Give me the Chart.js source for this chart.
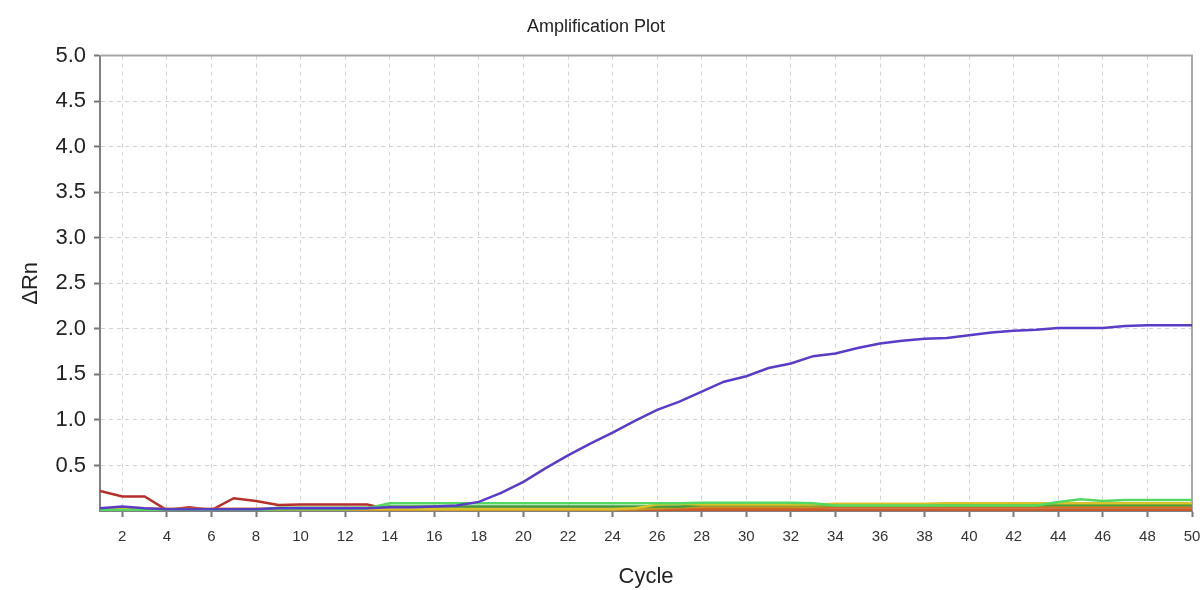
<!DOCTYPE html>
<html>
<head>
<meta charset="utf-8">
<script src="https://cdn.jsdelivr.net/npm/chart.js@4"></script>
<style>
  html, body { margin: 0; padding: 0; background: #fff; }
  #wrap { width: 1203px; height: 590px; }
</style>
</head>
<body>
<div id="wrap"><canvas id="grafico" width="1203" height="590"></canvas></div>
<script>
// --- DADOS ---
const cycles = [1,2,3,4,5,6,7,8,9,10,11,12,13,14,15,16,17,18,19,20,21,22,23,24,25,
  26,27,28,29,30,31,32,33,34,35,36,37,38,39,40,41,42,43,44,45,46,47,48,49,50];

const xTicks = [2,4,6,8,10,12,14,16,18,20,22,24,26,28,30,32,34,36,38,40,42,44,46,48,50];
const yTicks = [0.5,1.0,1.5,2.0,2.5,3.0,3.5,4.0,4.5,5.0];

// amostra amplificada (roxa)
const purple = [0.03,0.05,0.03,0.02,0.02,0.02,0.02,0.02,0.03,0.03,0.03,0.03,0.03,0.04,0.04,0.05,0.06,0.10,0.20,0.32,
  0.47,0.61,0.74,0.86,0.99,1.11,1.20,1.31,1.42,1.48,1.57,1.62,1.70,1.73,1.79,1.84,1.87,1.89,1.90,1.93,
  1.96,1.98,1.99,2.01,2.01,2.01,2.03,2.04,2.04,2.04];

// amostras sem amplificação (linha de base)
const brightGreen = [0.01,0.01,0.01,0.01,0.01,0.01,0.01,0.01,0.02,0.02,0.02,0.02,0.03,0.085,0.085,0.085,0.085,0.085,0.085,0.085,
  0.085,0.085,0.085,0.085,0.085,0.085,0.085,0.09,0.09,0.09,0.09,0.09,0.085,0.06,0.06,0.06,0.06,0.06,0.06,0.06,
  0.06,0.06,0.06,0.10,0.13,0.11,0.12,0.12,0.12,0.12];
const yellow = [0.02,0.02,0.02,0.02,0.02,0.02,0.02,0.02,0.02,0.02,0.02,0.02,0.02,0.02,0.02,0.02,0.02,0.02,0.02,0.02,
  0.02,0.02,0.02,0.02,0.03,0.07,0.08,0.07,0.07,0.07,0.07,0.07,0.07,0.08,0.08,0.08,0.08,0.08,0.085,0.085,
  0.085,0.085,0.085,0.085,0.085,0.085,0.085,0.085,0.085,0.085];
const darkGreen = [0.01,0.01,0.01,0.01,0.01,0.01,0.01,0.01,0.035,0.035,0.035,0.035,0.035,0.05,0.05,0.05,0.05,0.05,0.05,0.05,
  0.05,0.05,0.05,0.05,0.05,0.05,0.05,0.065,0.065,0.065,0.065,0.065,0.065,0.065,0.065,0.065,0.065,0.065,0.065,0.065,
  0.065,0.065,0.065,0.065,0.065,0.065,0.065,0.065,0.065,0.065];
const olive = [0.02,0.02,0.02,0.02,0.02,0.02,0.02,0.02,0.02,0.02,0.02,0.02,0.02,0.02,0.02,0.02,0.02,0.02,0.02,0.02,
  0.02,0.02,0.02,0.02,0.02,0.03,0.04,0.05,0.05,0.05,0.05,0.05,0.05,0.06,0.06,0.06,0.06,0.06,0.06,0.06,
  0.06,0.06,0.06,0.06,0.06,0.06,0.06,0.06,0.06,0.06];
const orange = [0.03,0.03,0.025,0.025,0.025,0.025,0.025,0.025,0.025,0.025,0.025,0.025,0.025,0.025,0.025,0.025,0.025,0.025,0.025,0.025,
  0.025,0.025,0.025,0.025,0.025,0.025,0.03,0.035,0.035,0.035,0.035,0.035,0.035,0.04,0.04,0.04,0.04,0.04,0.04,0.04,
  0.04,0.04,0.04,0.04,0.04,0.04,0.04,0.04,0.04,0.04];
const red = [0.22,0.16,0.16,0.01,0.04,0.01,0.14,0.11,0.065,0.07,0.07,0.07,0.07,0.015,0.015,0.015,0.015,0.015,0.015,0.015,
  0.015,0.015,0.015,0.015,0.015,0.015,0.015,0.015,0.015,0.015,0.015,0.015,0.015,0.015,0.015,0.015,0.015,0.015,0.015,0.015,
  0.015,0.015,0.015,0.015,0.015,0.015,0.015,0.015,0.015,0.015];
const orangeRed = [0.01,0.01,0.01,0.01,0.01,0.01,0.01,0.01,0.01,0.01,0.01,0.01,0.01,0.01,0.01,0.01,0.01,0.01,0.01,0.01,
  0.01,0.01,0.01,0.01,0.01,0.01,0.01,0.01,0.01,0.01,0.01,0.01,0.01,0.01,0.01,0.01,0.01,0.01,0.01,0.01,
  0.01,0.01,0.01,0.01,0.01,0.01,0.01,0.01,0.01,0.01];

const FONTE = "'Liberation Sans', Arial, sans-serif";

function pontos(valores) {
    return cycles.map((c, i) => ({ x: c, y: valores[i] }));
}

function serie(valores, cor, largura) {
    return {
        data: pontos(valores),
        borderColor: cor,
        backgroundColor: cor,
        borderWidth: largura || 2.5,
        pointRadius: 0,
        tension: 0,
        fill: false
    };
}

// moldura de cima e da direita
const moldura = {
    id: 'moldura',
    beforeDatasetsDraw(chart) {
        const { ctx, chartArea: a } = chart;
        ctx.save();
        ctx.strokeStyle = '#a8a8a8';
        ctx.lineWidth = 2;
        ctx.beginPath();
        ctx.moveTo(a.left, a.top);
        ctx.lineTo(a.right, a.top);
        ctx.lineTo(a.right, a.bottom);
        ctx.stroke();
        ctx.restore();
    }
};

const ctxGrafico = document.getElementById("grafico").getContext("2d");

const gradeComum = {
    color: '#d2d2d2',
    lineWidth: 1,
    tickLength: 6,
    tickColor: '#777',
    tickWidth: 2,
    tickBorderDash: []
};

new Chart(ctxGrafico, {
    type: 'line',
    data: {
        datasets: [
            serie(purple, '#5b3cc6'),
            serie(brightGreen, '#55d862'),
            serie(yellow, '#dcc22a'),
            serie(darkGreen, '#3f9a3c'),
            serie(olive, '#c29a24'),
            serie(orange, '#d26a26'),
            serie(orangeRed, '#cc5a2a'),
            serie(red, '#b5302a')
        ]
    },
    plugins: [moldura],
    options: {
        responsive: false,
        animation: false,
        layout: { padding: { left: 0, right: 11, top: 0, bottom: 0 } },
        plugins: {
            legend: { display: false },
            tooltip: { enabled: false },
            title: {
                display: true,
                text: 'Amplification Plot',
                color: '#222',
                font: { family: FONTE, size: 18, weight: 'normal' },
                padding: { top: 16, bottom: 18 }
            }
        },
        scales: {
            x: {
                type: 'linear',
                min: 1,
                max: 50,
                afterBuildTicks(scale) {
                    scale.ticks = xTicks.map(v => ({ value: v }));
                },
                afterFit(scale) {
                    scale.height = 79;
                    scale.paddingRight = 0;
                },
                ticks: {
                    color: '#333',
                    font: { family: FONTE, size: 15 },
                    padding: 11,
                    maxRotation: 0,
                    autoSkip: false
                },
                grid: gradeComum,
                border: { color: '#808080', width: 2, dash: [4, 4] },
                title: {
                    display: true,
                    text: 'Cycle',
                    color: '#222',
                    font: { family: FONTE, size: 22 },
                    padding: { top: 3, bottom: 0 }
                }
            },
            y: {
                min: 0,
                max: 5,
                afterBuildTicks(scale) {
                    scale.ticks = yTicks.map(v => ({ value: v }));
                },
                afterFit(scale) { scale.width = 100; },
                ticks: {
                    color: '#222',
                    font: { family: FONTE, size: 22 },
                    padding: 8,
                    callback: v => v.toFixed(1)
                },
                grid: gradeComum,
                border: { color: '#808080', width: 2, dash: [4, 4] },
                title: {
                    display: true,
                    text: 'ΔRn',
                    color: '#222',
                    font: { family: FONTE, size: 22 },
                    padding: { top: 18, bottom: 0 }
                }
            }
        }
    }
});
</script>
</body>
</html>
